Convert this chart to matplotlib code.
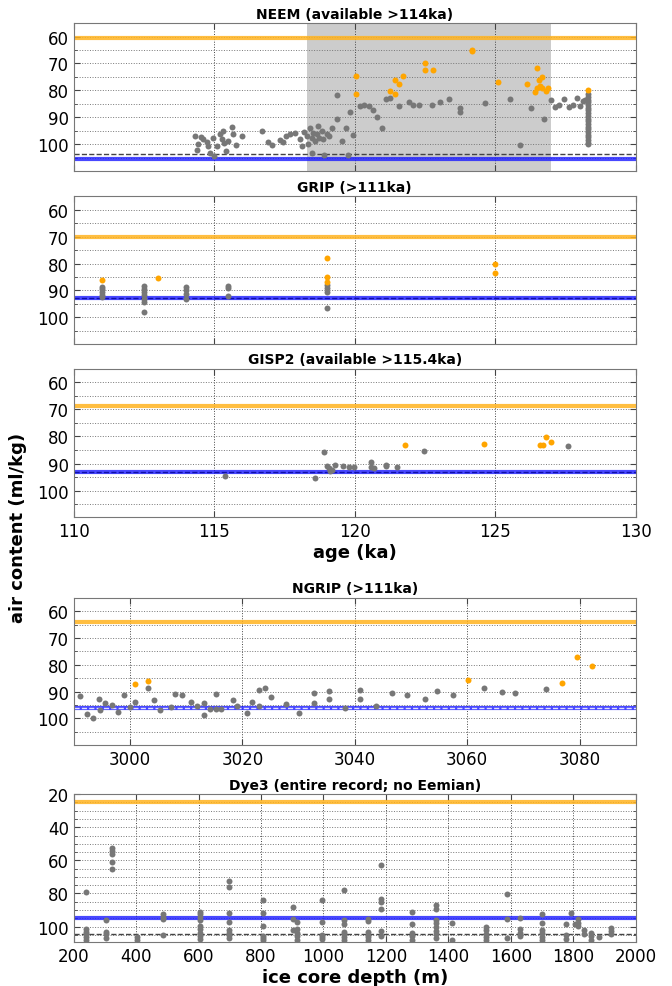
import matplotlib
matplotlib.use('Agg')
import matplotlib.pyplot as plt
from matplotlib.ticker import MultipleLocator

# ---- data ----
# NEEM, age (ka) vs air content (ml/kg)
neem_x = [114.3, 114.38, 114.44, 114.53, 114.59, 114.73, 114.79, 114.85, 114.97, 114.99,
          115.09, 115.21, 115.27, 115.33, 115.35, 115.42, 115.5, 115.62, 115.68, 115.78,
          115.98, 116.69, 116.93, 117.07, 117.34, 117.44, 117.54, 117.7, 117.88, 118.05,
          118.11, 118.21, 118.29, 118.35, 118.41, 118.47, 118.49, 118.53, 118.59, 118.65,
          118.71, 118.74, 118.82, 118.88, 118.91, 119.0, 119.1, 119.18, 119.38, 119.38,
          119.54, 119.68, 119.76, 119.83, 119.95, 120.19, 120.33, 120.51, 120.66, 120.81,
          120.96, 121.11, 121.26, 121.58, 121.92, 122.09, 122.3, 122.76, 123.05, 123.37,
          123.75, 123.76, 124.64, 125.54, 125.87, 126.29, 126.74, 126.99, 127.12, 127.28,
          127.46, 127.64, 127.78, 127.92, 128.02, 128.11, 128.2]
neem_y = [97.0, 102.2, 100.1, 97.2, 98.2, 99.4, 100.7, 103.4, 97.6, 104.4,
          100.7, 96.3, 98.2, 95.1, 99.7, 102.5, 98.8, 93.6, 96.3, 100.3,
          97.0, 95.1, 99.4, 100.3, 98.5, 99.2, 97.0, 96.1, 96.0, 98.2,
          100.7, 95.5, 97.0, 100.1, 93.9, 97.6, 103.4, 95.7, 98.8, 96.3,
          93.2, 97.6, 95.1, 98.2, 104.2, 96.3, 97.0, 94.1, 90.8, 81.7,
          98.8, 94.1, 104.0, 87.9, 96.7, 85.8, 85.3, 86.0, 87.3, 90.1,
          94.1, 83.1, 82.7, 86.0, 84.3, 85.4, 85.3, 85.5, 84.3, 83.3,
          86.4, 87.9, 84.7, 83.4, 100.2, 86.4, 90.6, 83.5, 86.2, 85.5,
          83.3, 86.2, 85.3, 82.7, 86.0, 83.9, 83.7]
# dense column of samples at the oldest end of NEEM
neem_col_x = 128.3
neem_col_y = [81.5, 82.5, 83.5, 84.5, 85.5, 86.5, 87.5, 88.5, 89.5, 90.5,
              91.5, 92.5, 93.5, 94.5, 95.5, 96.5, 97.5, 98.5, 99.5, 100.1]
neem_ox = [120.05, 120.05, 121.27, 121.42, 121.42, 121.58, 121.73, 122.51, 122.51, 122.77,
           124.17, 124.17, 125.11, 126.12, 126.42, 126.48, 126.5, 126.56, 126.6, 126.65,
           126.65, 126.8, 126.89, 128.31]
neem_oy = [74.6, 81.4, 80.2, 76.1, 81.2, 77.8, 74.5, 69.7, 72.6, 72.6,
           64.9, 65.4, 76.8, 77.5, 80.8, 79.0, 71.8, 76.2, 78.3, 75.0,
           79.0, 80.4, 79.3, 79.9]

# GRIP
grip_x = [111.0, 111.0, 111.0, 111.0, 111.0, 112.5, 112.5, 112.5, 112.5, 112.5, 112.5,
          112.5, 114.0, 114.0, 114.0, 114.0, 115.5, 115.5, 115.5, 119.0, 119.0, 119.0, 119.0]
grip_y = [88.6, 89.6, 90.6, 91.6, 92.6, 88.2, 89.4, 90.6, 91.8, 93.0, 94.4,
          98.1, 88.9, 90.0, 91.4, 93.2, 88.2, 89.2, 92.2, 88.0, 89.2, 90.5, 96.4]
grip_ox = [111.0, 113.0, 119.0, 119.0, 119.0, 125.0, 125.0]
grip_oy = [86.3, 85.5, 78.0, 85.0, 87.0, 80.1, 83.4]

# GISP2
gisp2_x = [115.4, 118.6, 118.9, 119.0, 119.07, 119.13, 119.2, 119.3, 119.59, 119.8,
           119.99, 120.59, 120.59, 120.7, 121.1, 121.1, 121.5, 122.48, 127.59]
gisp2_y = [94.5, 95.3, 85.8, 91.0, 91.8, 92.7, 92.3, 90.5, 91.0, 91.4,
           91.4, 89.3, 91.4, 91.8, 90.5, 91.0, 91.4, 85.3, 83.7]
gisp2_ox = [121.79, 124.6, 126.58, 126.69, 126.79, 126.98]
gisp2_oy = [83.0, 82.6, 83.0, 83.0, 80.1, 82.2]

# NGRIP, depth (m)
ngrip_x = [2991.2, 2992.3, 2993.5, 2994.5, 2994.6, 2995.6, 2996.8, 2997.9, 2998.9, 3000.1,
           3000.9, 3003.3, 3004.2, 3005.3, 3007.3, 3008.1, 3009.3, 3010.8, 3012.0, 3013.1,
           3013.2, 3014.2, 3015.4, 3015.4, 3016.2, 3018.4, 3019.0, 3020.8, 3021.7, 3022.9,
           3023.0, 3024.0, 3025.1, 3027.8, 3030.1, 3032.8, 3032.8, 3035.5, 3035.5, 3038.2,
           3041.0, 3041.0, 3043.7, 3046.6, 3049.3, 3052.5, 3054.7, 3057.5, 3063.0, 3066.2,
           3068.5, 3074.0]
ngrip_y = [91.5, 98.5, 99.8, 92.7, 96.9, 94.3, 95.0, 97.5, 91.2, 95.7,
           93.8, 88.8, 93.0, 96.9, 95.7, 90.9, 91.3, 94.0, 95.4, 98.9,
           94.3, 96.4, 91.0, 96.7, 96.7, 93.0, 95.3, 98.2, 94.0, 89.3,
           95.4, 88.8, 92.0, 94.7, 97.9, 90.7, 94.4, 89.7, 92.8, 96.3,
           89.6, 92.9, 95.4, 90.5, 91.2, 92.9, 89.9, 91.4, 88.8, 90.2,
           90.7, 89.1]
ngrip_ox = [3000.9, 3003.3, 3060.1, 3076.8, 3079.5, 3082.2]
ngrip_oy = [87.1, 86.1, 85.6, 86.7, 77.0, 80.4]

# Dye3, depth (m)
dye3_x = [238, 238, 238, 238, 238, 238, 303, 303, 303, 303, 324, 324, 324, 324, 324,
          403, 403, 486, 486, 486, 486, 606, 606, 606, 606, 606, 606, 606, 606, 606,
          696, 696, 696, 696, 696, 696, 696, 696, 807, 807, 807, 807, 807, 807,
          903, 903, 903, 915, 915, 915, 915, 915, 994, 994, 994, 994, 994,
          1065, 1065, 1065, 1065, 1065, 1065, 1065, 1142, 1142, 1142, 1142, 1142, 1142,
          1183, 1183, 1183, 1183, 1183, 1183, 1282, 1282, 1282, 1282, 1282,
          1360, 1360, 1360, 1360, 1360, 1360, 1360, 1360, 1412, 1412,
          1522, 1522, 1522, 1522, 1522, 1589, 1589, 1589, 1628, 1628, 1628, 1628,
          1701, 1701, 1701, 1701, 1701, 1701, 1776, 1776, 1776, 1794, 1804,
          1815, 1815, 1815, 1834, 1834, 1856, 1856, 1856, 1883, 1920, 1920, 1920]
dye3_y = [79.0, 101.6, 103.0, 104.6, 106.2, 108.0, 96.2, 103.0, 104.6, 107.2,
          52.8, 54.2, 56.2, 61.2, 65.4, 106.6, 108.2, 92.6, 94.2, 95.6, 105.0,
          91.2, 92.6, 94.2, 96.2, 99.6, 101.6, 103.6, 105.6, 107.6,
          72.6, 76.2, 91.6, 97.0, 102.2, 103.6, 105.0, 107.0,
          84.0, 91.6, 99.6, 105.6, 107.0, 108.2,
          88.2, 95.6, 102.2, 97.0, 101.6, 103.6, 105.6, 108.2,
          84.0, 97.0, 105.0, 106.4, 107.6,
          77.8, 96.2, 98.6, 103.0, 104.6, 106.4, 108.0,
          95.2, 96.6, 103.0, 104.8, 106.6, 108.2,
          63.0, 83.6, 85.0, 89.4, 102.6, 105.6,
          91.0, 98.2, 104.0, 106.0, 108.2,
          87.2, 89.6, 96.0, 98.0, 100.2, 102.4, 104.6, 106.8, 97.6, 108.0,
          100.2, 102.2, 104.4, 106.6, 108.4, 80.6, 95.6, 107.2,
          95.0, 101.6, 103.8, 106.0,
          92.6, 97.6, 102.0, 104.0, 106.2, 108.2, 98.6, 105.0, 107.8, 91.6, 98.2,
          95.6, 97.6, 99.6, 102.2, 104.2, 104.0, 106.0, 108.2, 106.6, 100.6, 102.6, 104.6]

# reference levels: (orange, blue, dashed)
levels = {
    'NEEM': (60.5, 105.4, 103.6),
    'GRIP': (70.0, 92.9, 92.9),
    'GISP2': (68.8, 93.0, 93.0),
    'NGRIP': (63.8, 96.1, 96.1),
    'Dye3': (25.0, 95.0, 104.5),
}

GREY = '#777777'
ORANGE = '#FFA500'


def style_ax(ax, ylim, major, minor):
    # eixo y invertido, grade pontilhada nos dois niveis
    ax.set_ylim(ylim)
    ax.yaxis.set_major_locator(MultipleLocator(major))
    ax.yaxis.set_minor_locator(MultipleLocator(minor))
    ax.grid(True, which='both', axis='y', ls=':', color='#777777', lw=0.7, zorder=0)
    ax.grid(True, which='major', axis='x', ls=':', color='#444444', lw=0.7, zorder=0)
    ax.tick_params(direction='in', top=True, right=True, which='both', labelsize=12,
                   color='#444444')
    ax.tick_params(which='major', length=4)
    ax.tick_params(which='minor', length=2)
    for s in ax.spines.values():
        s.set_color('#777777')
    ax.set_axisbelow(True)


def ref_lines(ax, name, dash_color):
    o, b, d = levels[name]
    ax.axhline(o, color='#FFB31F', lw=3.0, alpha=0.85, zorder=1)
    ax.axhline(b, color='#1A1AFF', lw=3.0, alpha=0.8, zorder=1)
    ax.axhline(d, color=dash_color, lw=1.0, ls='--', zorder=1.5)


def dots(ax, x, y, color):
    ax.plot(x, y, 'o', color=color, ms=4.3, mec='none', zorder=3, clip_on=True)


fig = plt.figure(figsize=(6.72, 9.87), dpi=100)
L, W, H = 0.1097, 0.8363, 0.1496

# NEEM
ax1 = fig.add_axes([L, 0.8260, W, H])
ax1.axvspan(118.3, 127.0, color='#CCCCCC', zorder=0.5, lw=0)
ref_lines(ax1, 'NEEM', '#444444')
dots(ax1, neem_x, neem_y, GREY)
dots(ax1, [neem_col_x] * len(neem_col_y), neem_col_y, GREY)
dots(ax1, neem_ox, neem_oy, ORANGE)
ax1.set_xlim(110, 130)
style_ax(ax1, (109.9, 55), 10, 5)
ax1.xaxis.set_major_locator(MultipleLocator(5))
ax1.tick_params(labelbottom=False)
ax1.set_title('NEEM (available >114ka)', fontsize=10, fontweight='bold', pad=4)

# GRIP
ax2 = fig.add_axes([L, 0.6505, W, H])
ref_lines(ax2, 'GRIP', '#1010AA')
dots(ax2, grip_x, grip_y, GREY)
dots(ax2, grip_ox, grip_oy, ORANGE)
ax2.set_xlim(110, 130)
style_ax(ax2, (109.9, 55), 10, 5)
ax2.xaxis.set_major_locator(MultipleLocator(5))
ax2.tick_params(labelbottom=False)
ax2.set_title('GRIP (>111ka)', fontsize=10, fontweight='bold', pad=4)

# GISP2
ax3 = fig.add_axes([L, 0.4749, W, 0.1503])
ref_lines(ax3, 'GISP2', '#1010AA')
dots(ax3, gisp2_x, gisp2_y, GREY)
dots(ax3, gisp2_ox, gisp2_oy, ORANGE)
ax3.set_xlim(110, 130)
style_ax(ax3, (109.9, 55), 10, 5)
ax3.xaxis.set_major_locator(MultipleLocator(5))
ax3.set_title('GISP2 (available >115.4ka)', fontsize=10, fontweight='bold', pad=4)
ax3.set_xlabel('age (ka)', fontsize=13, fontweight='bold', labelpad=2)

# NGRIP
ax4 = fig.add_axes([L, 0.2445, W, 0.1486])
ref_lines(ax4, 'NGRIP', '#DDDDFF')
dots(ax4, ngrip_x, ngrip_y, GREY)
dots(ax4, ngrip_ox, ngrip_oy, ORANGE)
ax4.set_xlim(2990, 3090)
style_ax(ax4, (109.9, 55), 10, 5)
ax4.xaxis.set_major_locator(MultipleLocator(20))
ax4.set_title('NGRIP (>111ka)', fontsize=10, fontweight='bold', pad=4)

# Dye3
ax5 = fig.add_axes([L, 0.0443, W, 0.1500])
ref_lines(ax5, 'Dye3', '#444444')
dots(ax5, dye3_x, dye3_y, GREY)
ax5.set_xlim(200, 2000)
style_ax(ax5, (109.5, 20), 20, 5)
ax5.xaxis.set_major_locator(MultipleLocator(200))
ax5.set_title('Dye3 (entire record; no Eemian)', fontsize=10, fontweight='bold', pad=4)
ax5.set_xlabel('ice core depth (m)', fontsize=13, fontweight='bold', labelpad=2)

fig.text(0.027, 0.465, 'air content (ml/kg)', rotation=90, fontsize=13,
         fontweight='bold', ha='center', va='center')

fig.savefig('out.png', dpi=100)
